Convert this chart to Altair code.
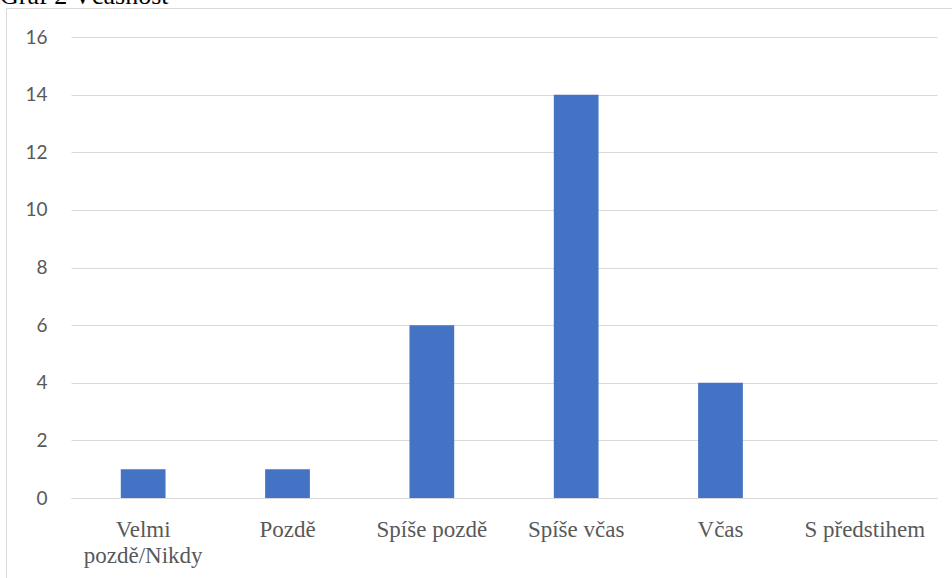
import altair as alt
import pandas as pd

# Responses per punctuality category
categories = ["Velmi pozdě/Nikdy", "Pozdě", "Spíše pozdě", "Spíše včas", "Včas", "S předstihem"]
counts = [1, 1, 6, 14, 4, 0]
y_ticks = [0, 2, 4, 6, 8, 10, 12, 14, 16]
caption = "Graf 2 Včasnost"

df = pd.DataFrame({"kategorie": categories, "pocet": counts})
one = pd.DataFrame({"t": [caption]})

GRID = "#d9d9d9"
LABEL = "#595959"

bars = alt.Chart(df).mark_bar(color="#4472C4").encode(
    x=alt.X(
        "kategorie:N",
        sort=categories,
        title=None,
        scale=alt.Scale(paddingInner=0.69, paddingOuter=0.345),
        axis=alt.Axis(
            labelAngle=0,
            labelFont="Liberation Serif",
            labelFontSize=23,
            labelColor=LABEL,
            labelPadding=20,
            labelLineHeight=26,
            labelExpr="datum.label == 'Velmi pozdě/Nikdy' ? ['Velmi', 'pozdě/Nikdy'] : datum.label",
            ticks=False,
            domainColor=GRID,
            domainWidth=1,
            grid=False,
            labelLimit=300,
        ),
    ),
    y=alt.Y(
        "pocet:Q",
        title=None,
        scale=alt.Scale(domain=[0, 16], nice=False),
        axis=alt.Axis(
            values=y_ticks,
            labelFont="Lato",
            labelFontSize=19,
            labelColor=LABEL,
            labelPadding=24,
            ticks=False,
            domain=False,
            gridColor=GRID,
            gridWidth=1,
        ),
    ),
)

# Outer frame around the chart area
frame = alt.Chart(one).mark_rect(fill=None, stroke=GRID, strokeWidth=1).encode(
    x=alt.value(-64.5), x2=alt.value(1000),
    y=alt.value(-28.5), y2=alt.value(800),
)

# Caption above the frame
title = alt.Chart(one).mark_text(
    align="left", baseline="alphabetic", font="Liberation Serif", fontSize=26, color="#000000"
).encode(text="t:N", x=alt.value(-71), y=alt.value(-33))

chart = alt.layer(frame, bars, title).properties(
    width=866,
    height=461,
    autosize=alt.AutoSizeParams(type="none"),
    padding={"left": 71, "top": 37, "right": 15, "bottom": 80},
).configure_view(stroke=None)

chart.save("out.html", embed_options={"renderer": "svg", "actions": False})
